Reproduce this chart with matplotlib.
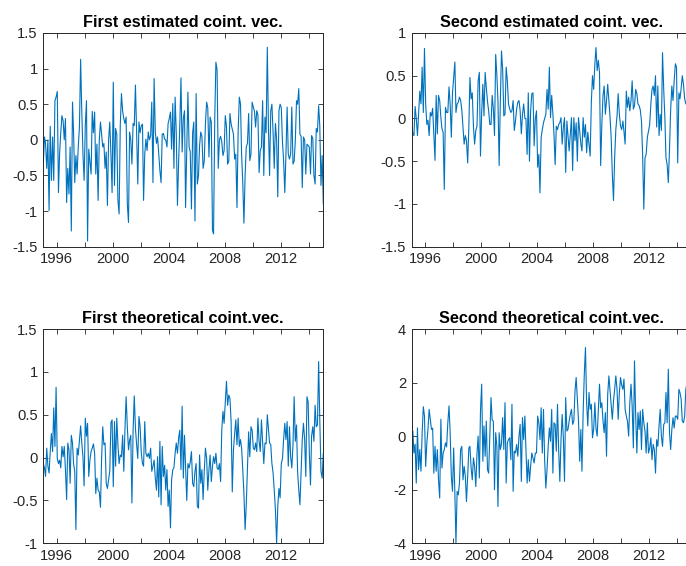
import pandas as pd
import numpy as np
import matplotlib
matplotlib.use('Agg')
import matplotlib.pyplot as plt
from matplotlib.ticker import FormatStrFormatter

plt.rc('font', family='Liberation Sans')
plt.rc('axes', unicode_minus=False)

## 월별 시계열 (1995-01 ~ 2015-01, 241개)
dates = pd.date_range('1995-01-01', periods=241, freq='MS') + pd.Timedelta(days=14)

first_est = [
    -0.34, 0.04, -0.05, -0.4, 0.0, -0.99, 0.19, -0.57, 0.04, -0.57,
    0.55, 0.6, 0.68, -0.74, -0.2, 0.1, 0.34, 0.27, 0.0, 0.3,
    -0.88, -0.4, -0.76, -0.1, -1.28, 0.53, 0.1, -0.6, -0.22, -0.48,
    -0.1, 0.18, 1.13, 0.4, -0.2, -0.57, 0.2, 0.55, -1.42, -0.13,
    -0.3, -0.48, 0.4, 0.1, 0.39, -0.48, -0.06, -0.85, 0.0, 0.25,
    0.08, -0.1, -0.05, -0.4, -0.17, -0.92, 0.0, 0.25, -0.2, -0.74,
    0.81, -0.64, 0.16, 0.08, -0.85, -1.04, 0.2, 0.65, 0.4, 0.3,
    0.23, 0.32, -0.9, -1.16, 0.11, 0.0, -0.34, 0.23, 0.2, 0.77,
    0.1, -0.62, 0.25, 0.1, 0.2, 0.22, -0.85, -0.2, 0.01, -0.15,
    0.11, 0.0, 0.06, 0.53, -0.6, 0.86, 0.11, -0.05, 0.04, -0.2,
    -0.43, -0.6, 0.08, 0.09, 0.01, 0.0, -0.1, 0.23, 0.3, 0.39,
    -0.13, 0.51, -0.4, 0.6, 0.1, -0.92, -0.3, 0.2, 0.87, -0.17,
    0.3, 0.41, -0.95, -0.1, 0.67, -0.1, -0.17, -0.97, 0.1, 0.25,
    -1.14, 0.65, -0.62, -0.5, -0.08, 0.11, 0.05, -0.4, -0.3, 0.23,
    0.53, 0.45, -0.24, 0.32, 0.25, -1.27, -1.32, 0.3, 1.09, 0.98,
    -0.4, 0.0, 0.05, -0.03, -0.22, -0.15, 0.34, 0.18, -0.34, -0.3,
    0.37, 0.22, 0.15, 0.08, -0.27, -0.2, -0.95, 0.11, 0.6, 0.5,
    -0.2, -0.6, -1.17, -0.5, -0.1, -0.05, 0.37, -0.29, -0.2, 0.53,
    0.46, 0.4, 0.18, 0.41, 0.35, -0.46, -0.15, -0.1, 0.55, -0.5,
    0.32, 0.1, 1.3, 0.13, -0.5, 0.41, 0.5, 0.1, -0.4, 0.23,
    0.0, -0.8, 0.41, 0.5, 0.45, -0.03, -0.29, -0.74, -0.2, 0.46,
    -0.2, -0.27, -0.2, 0.46, -0.34, -0.3, -0.01, 0.55, 0.5, 0.72,
    0.08, 0.05, -0.67, 0.04, 0.0, -0.48, -0.06, -0.08, -0.1, -0.48,
    0.06, 0.02, -0.5, -0.62, 0.16, 0.11, 0.48, 0.2, -0.64, -0.22, -0.9,
]

second_est = [
    -0.07, -0.18, -0.2, 0.14, 0.0, -0.2, 0.05, 0.32, 0.17, 0.6,
    0.07, 0.82, 0.17, -0.07, -0.02, -0.2, 0.07, 0.03, 0.12, -0.18,
    -0.49, 0.27, -0.18, 0.27, 0.21, 0.01, -0.12, -0.16, -0.83, 0.13,
    0.07, 0.07, 0.37, 0.17, -0.22, 0.3, 0.48, 0.66, 0.07, 0.17,
    0.19, 0.25, 0.21, 0.1, -0.1, -0.3, -0.2, -0.26, -0.52, -0.09,
    0.48, 0.23, 0.3, -0.1, -0.3, -0.14, -0.09, 0.44, 0.54, -0.44,
    0.07, 0.4, 0.03, 0.54, 0.36, 0.2, 0.09, -0.07, -0.07, 0.27,
    0.11, -0.2, 0.75, 0.5, 0.21, -0.55, 0.17, 0.79, 0.58, 0.03,
    0.05, 0.6, 0.44, 0.17, 0.11, 0.07, 0.09, 0.21, -0.14, -0.03,
    0.11, 0.19, 0.21, 0.09, -0.18, 0.05, 0.17, 0.0, 0.0, -0.42,
    0.3, -0.5, 0.09, 0.29, 0.3, -0.32, 0.0, 0.09, -0.57, -0.42,
    -0.87, -0.22, -0.13, -0.05, 0.0, 0.05, 0.34, 0.11, 0.6, 0.01,
    0.27, 0.05, -0.18, -0.54, -0.09, -0.13, -0.07, -0.05, 0.01, -0.3,
    -0.1, 0.01, -0.63, -0.03, -0.2, -0.38, -0.18, 0.01, -0.61, 0.01,
    -0.26, -0.05, -0.5, 0.01, -0.14, -0.3, -0.38, 0.01, -0.22, -0.07,
    -0.4, -0.16, -0.3, -0.44, 0.19, 0.5, 0.34, 0.64, 0.83, 0.56,
    0.68, 0.54, -0.55, -0.07, 0.27, 0.38, 0.05, 0.21, 0.4, 0.2,
    0.03, -0.22, -0.65, -0.96, -0.46, -0.13, 0.03, 0.29, 0.05, -0.09,
    -0.13, -0.03, -0.15, -0.3, 0.32, 0.13, 0.25, 0.09, 0.21, 0.44,
    0.11, 0.15, 0.34, 0.29, 0.17, 0.15, 0.1, -0.03, -0.42, -1.06,
    -0.46, -0.42, -0.22, -0.15, -0.07, 0.17, 0.34, 0.38, 0.27, 0.5,
    -0.1, 0.38, -0.2, 0.05, -0.14, 0.77, 0.34, 0.0, -0.46, -0.54,
    -0.75, -0.36, 0.1, 0.38, 0.21, 0.44, 0.64, 0.6, -0.52, 0.3,
    0.23, 0.35, 0.5, 0.4, 0.23, 0.17, 0.2, 0.15, 0.3, 0.1, 0.2,
]

first_theo = [
    -0.07, -0.12, -0.22, 0.11, -0.1, -0.18, 0.07, 0.28, 0.07, 0.58,
    0.13, 0.82, -0.01, -0.07, -0.03, -0.12, 0.13, 0.01, 0.13, -0.14,
    -0.49, 0.17, 0.09, -0.3, 0.26, 0.17, -0.07, -0.16, -0.84, 0.11,
    0.03, 0.2, 0.37, 0.17, 0.01, -0.33, 0.46, 0.25, 0.4, -0.22,
    -0.03, 0.07, 0.11, 0.16, 0.05, -0.42, -0.24, -0.38, -0.4, -0.58,
    -0.03, 0.36, 0.15, 0.17, -0.3, -0.36, -0.26, -0.16, 0.41, 0.44,
    -0.34, 0.42, -0.1, 0.46, 0.15, -0.07, 0.03, 0.01, 0.26, -0.16,
    0.34, 0.71, 0.36, 0.09, 0.2, 0.26, -0.53, 0.32, 0.72, 0.34,
    0.15, -0.01, 0.48, 0.36, 0.05, -0.07, -0.1, 0.42, 0.05, 0.01,
    0.05, -0.01, 0.11, -0.16, -0.1, -0.03, -0.24, -0.38, 0.01, -0.46,
    0.19, -0.55, 0.13, -0.22, -0.09, -0.38, -0.14, -0.57, -0.38, -0.82,
    -0.26, -0.14, -0.12, 0.05, 0.17, 0.05, 0.23, 0.32, -0.14, 0.6,
    -0.24, 0.26, -0.12, -0.5, -0.07, -0.12, -0.05, 0.07, -0.3, -0.34,
    -0.16, -0.07, -0.57, -0.59, 0.03, -0.3, -0.14, -0.49, -0.16, 0.11,
    -0.01, -0.38, -0.14, 0.03, -0.28, -0.1, 0.01, -0.07, 0.05, -0.12,
    -0.14, -0.07, -0.28, 0.32, 0.54, 0.4, 0.65, 0.89, 0.61, 0.73,
    0.69, 0.42, -0.4, 0.09, 0.28, 0.44, 0.15, 0.46, 0.13, 0.21,
    0.11, -0.14, -0.42, -0.84, -0.55, -0.14, 0.3, 0.01, 0.36, 0.32,
    0.11, 0.09, 0.17, 0.07, 0.46, 0.19, 0.07, 0.44, 0.19, -0.07,
    0.17, 0.16, 0.5, 0.32, 0.17, 0.15, -0.07, -0.18, -0.38, -0.61,
    -1.0, -0.57, -0.36, -0.47, -0.07, -0.01, 0.21, 0.4, 0.21, 0.42,
    -0.1, 0.36, 0.01, -0.12, 0.15, 0.71, 0.19, 0.38, -0.16, -0.38,
    -0.55, -0.18, 0.21, 0.4, 0.21, -0.22, 0.71, 0.65, 0.05, -0.32,
    0.25, 0.36, 0.19, 0.61, 0.36, 0.38, 1.12, 0.44, -0.16, -0.24, 0.05,
]

second_theo = [
    -0.19, 0.19, -0.63, -0.3, -1.75, 0.31, -1.25, -0.5, -1.31, 0.1,
    1.1, 0.75, -1.13, -0.25, 0.25, 1.0, 0.63, 0.25, 0.3, -1.38,
    -0.38, -1.31, -0.5, -1.63, -2.31, 0.63, -1.19, -0.63, -0.5, -0.25,
    -0.4, 0.5, 1.13, 0.13, -1.5, -2.06, -0.44, -2.13, -4.0, -2.06,
    -2.19, -1.75, -0.5, -0.38, -1.63, -1.13, -1.5, -2.44, -1.5, -0.44,
    -0.38, -1.19, -1.63, -0.81, -1.13, -1.88, -0.63, 0.0, -1.56, 0.94,
    1.94, -0.94, 0.38, -0.75, 0.56, -1.25, -1.38, 0.0, 1.44, 0.6,
    0.56, -2.0, 0.13, -0.38, -2.63, 0.13, -0.5, -0.3, 0.69, -0.5,
    1.25, -1.75, -0.25, -0.13, -0.06, -0.88, 1.19, -2.06, -0.56, -0.63,
    -0.31, -0.75, 0.0, 0.44, -1.69, 0.69, -0.13, 0.75, -0.5, -1.75,
    -0.88, -1.69, -1.13, -0.63, -0.81, -1.0, -0.63, -0.63, 0.75, 0.5,
    -0.13, 1.06, -0.63, 1.0, -0.88, -1.94, -1.25, -0.38, 0.31, -0.19,
    1.0, -1.38, 0.5, 0.44, -0.56, 1.19, -0.5, -1.69, -0.13, 0.81,
    -0.06, -1.69, 1.44, 0.19, 0.25, 0.56, 0.81, 1.0, 0.44, 0.56,
    1.69, 2.19, 1.38, 0.6, -0.94, 0.25, -1.31, 0.88, 2.3, 3.31,
    1.25, 0.38, 1.63, 1.0, 1.19, -0.06, 0.25, 1.25, 0.3, 0.0,
    1.0, 1.94, 1.06, 1.25, 0.56, 0.13, 0.88, -0.75, 1.56, 2.25,
    1.75, 1.19, 0.63, 1.31, 1.75, 2.25, 1.75, 0.63, 1.63, 2.19,
    1.9, 1.75, 2.13, 1.0, 0.75, 0.56, 0.0, 1.25, 1.94, 1.13,
    -0.44, 2.81, 0.75, -0.63, 0.88, 0.25, 0.94, -0.5, 1.0, 0.5,
    0.19, -0.63, 0.5, -0.63, -0.44, -0.06, -0.88, -0.31, -0.5, -1.38,
    -0.13, -0.38, 0.38, 1.0, 0.0, -0.38, 0.44, 0.5, 1.63, 0.5,
    2.5, 0.13, -0.5, 0.25, 0.69, 0.3, 0.75, 0.75, 0.63, 1.75,
    1.63, 1.38, 0.56, 0.5, 0.75, 1.75, 2.0, 1.6, 1.1, 1.9, 2.05,
]

titles = ['First estimated coint. vec.', 'Second estimated coint. vec.',
          'First theoretical coint.vec.', 'Second theoretical coint.vec.']
yticks = [[-1.5, -1, -0.5, 0, 0.5, 1, 1.5],
          [-1.5, -1, -0.5, 0, 0.5, 1],
          [-1, -0.5, 0, 0.5, 1, 1.5],
          [-4, -2, 0, 2, 4]]
tick_years = list(range(1996, 2015, 2))

series = [first_est, second_est, first_theo, second_theo]
# 그림 위치 (왼쪽, 아래, 너비, 높이)
positions = [[0.0631, 0.5641, 0.4082, 0.3776],
             [0.6001, 0.5641, 0.4082, 0.3776],
             [0.0631, 0.0401, 0.4082, 0.3786],
             [0.6001, 0.0401, 0.4082, 0.3786]]

fig = plt.figure(figsize=(6.86, 5.66), dpi=100)
dark = '#262626'

for k in range(4):
    ax = fig.add_axes(positions[k])
    ax.plot(dates, series[k], color='#0072BD', lw=0.8)
    ax.set_xlim(dates[0], dates[-1])
    ax.set_ylim(yticks[k][0], yticks[k][-1])
    ax.set_yticks(yticks[k])
    ax.yaxis.set_major_formatter(FormatStrFormatter('%g'))
    ax.set_xticks(pd.to_datetime([f'{y}-01-01' for y in tick_years]))
    ax.set_xticklabels([str(y) if y % 4 == 0 else '' for y in tick_years])
    ax.tick_params(direction='in', length=3.5, width=0.6, colors=dark,
                   labelsize=10.6, top=True, right=True, pad=4)
    ax.tick_params(axis='x', pad=4)
    for s in ax.spines.values():
        s.set_color(dark)
        s.set_linewidth(0.7)
    ax.set_title(titles[k], fontsize=11.7, fontweight='bold', pad=4.5)

fig.savefig('out.png', dpi=100)
